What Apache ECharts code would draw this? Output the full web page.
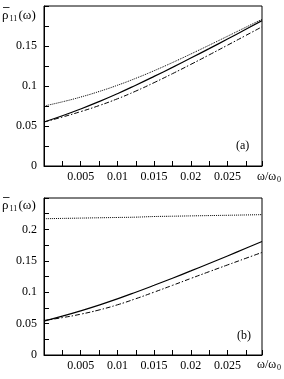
<!DOCTYPE html>
<html>
<head>
<meta charset="utf-8">
<script src="https://cdn.jsdelivr.net/npm/echarts@6/dist/echarts.min.js"></script>
<style>html,body{margin:0;padding:0;background:#fff}#c{width:284px;height:379px}</style>
</head>
<body>
<div id="c"></div>
<script>
// omega / omega_0 sample points
var omega = [0, 0.0025, 0.005, 0.0075, 0.01, 0.0125, 0.015, 0.0175, 0.02, 0.0225, 0.025, 0.0275, 0.0297];
// panel (a)
var aSolid   = [0.055, 0.0628, 0.0713, 0.0805, 0.0904, 0.101, 0.112, 0.1233, 0.1349, 0.1467, 0.1587, 0.1709, 0.1817];
var aDotted  = [0.075, 0.0802, 0.0862, 0.0931, 0.1009, 0.1096, 0.1191, 0.1293, 0.140, 0.151, 0.1622, 0.1735, 0.1834];
var aDashDot = [0.055, 0.0612, 0.068, 0.0755, 0.084, 0.0936, 0.1042, 0.1154, 0.127, 0.1389, 0.151, 0.1632, 0.174];
// panel (b)
var bSolid   = [0.054, 0.0618, 0.0703, 0.0795, 0.0894, 0.100, 0.111, 0.1223, 0.1339, 0.1457, 0.1577, 0.1699, 0.1807];
var bDotted  = [0.217, 0.2175, 0.218, 0.2185, 0.219, 0.2195, 0.2205, 0.221, 0.2215, 0.222, 0.2225, 0.223, 0.2235];
var bDashDot = [0.055, 0.0595, 0.065, 0.0717, 0.0799, 0.0896, 0.1001, 0.1109, 0.1219, 0.1327, 0.1434, 0.154, 0.1633];
var xMax = 0.0297, xStep = 0.0025, xLabelStep = 0.005;
var yMaxA = 0.2, yMaxB = 0.25, yStep = 0.025, yLabelStep = 0.05;

var FONT = 'Liberation Serif';
function pairs(ys){ return omega.map(function(x,i){ return [x, ys[i]]; }); }
function isMult(v, s){ var r = v / s; return Math.abs(r - Math.round(r)) < 1e-6; }
function fmt(v){ return String(+v.toFixed(4)); }

function xAxis(gi){
  return {
    type:'value', gridIndex:gi, min:0, max:xMax, interval:xStep,
    axisLine:{show:true,lineStyle:{color:'#000',width:1}},
    axisTick:{show:true,inside:true,length:5,lineStyle:{color:'#000'}},
    splitLine:{show:false},
    axisLabel:{color:'#000',fontFamily:FONT,fontSize:12,margin:5,
      formatter:function(v){ return (v>1e-9 && v<xMax-1e-6 && isMult(v,xLabelStep)) ? fmt(v) : ''; }}
  };
}
function yAxis(gi, max){
  return {
    type:'value', gridIndex:gi, min:0, max:max, interval:yStep,
    axisLine:{show:true,lineStyle:{color:'#000',width:1}},
    axisTick:{show:true,inside:true,length:5,lineStyle:{color:'#000'}},
    splitLine:{show:false},
    axisLabel:{color:'#000',fontFamily:FONT,fontSize:12,margin:7,
      formatter:function(v){ return (v<max-1e-9 && isMult(v,yLabelStep)) ? fmt(v) : ''; }}
  };
}
function line(gi, ys, type){
  return {type:'line', xAxisIndex:gi, yAxisIndex:gi, data:pairs(ys), showSymbol:false, smooth:0.5,
    lineStyle:{color:'#000', width: type==='solid'?1.2:1, type:type}, silent:true, animation:false};
}
var DASHDOT = [5,2,1.5,2];

function yName(top){
  return [
    {type:'line', shape:{x1:3, y1:top-1.5, x2:9.5, y2:top-1.5}, style:{stroke:'#000', lineWidth:0.8}},
    {type:'text', left:2, top:top, style:{text:'\u03C1', font:'13px "'+FONT+'"', fill:'#000'}},
    {type:'text', left:9.5, top:top+6, style:{text:'11', font:'8px "'+FONT+'"', fill:'#000'}},
    {type:'text', left:18.5, top:top, style:{text:'(\u03C9)', font:'13px "'+FONT+'"', fill:'#000'}}
  ];
}
function xName(top){
  return [
    {type:'text', left:257, top:top, style:{text:'\u03C9/\u03C9', font:'12px "'+FONT+'"', fill:'#000'}},
    {type:'text', left:277, top:top+5, style:{text:'0', font:'8px "'+FONT+'"', fill:'#000'}}
  ];
}

var chart = echarts.init(document.getElementById('c'), null, {renderer:'canvas'});
chart.setOption({
  animation:false,
  grid:[
    {left:44, top:6, width:218, height:160, show:true, borderColor:'#000', borderWidth:1, backgroundColor:'transparent'},
    {left:44, top:198, width:218, height:157, show:true, borderColor:'#000', borderWidth:1, backgroundColor:'transparent'}
  ],
  xAxis:[xAxis(0), xAxis(1)],
  yAxis:[yAxis(0,yMaxA), yAxis(1,yMaxB)],
  series:[
    line(0,aSolid,'solid'), line(0,aDotted,'dotted'), line(0,aDashDot,DASHDOT),
    line(1,bSolid,'solid'), line(1,bDotted,'dotted'), line(1,bDashDot,DASHDOT)
  ],
  graphic: [].concat(
    yName(9), yName(199), xName(171), xName(359),
    [
      {type:'text', left:236, top:140, style:{text:'(a)', font:'12px "'+FONT+'"', fill:'#000'}},
      {type:'text', left:237, top:330, style:{text:'(b)', font:'12px "'+FONT+'"', fill:'#000'}}
    ]
  )
});
</script>
</body>
</html>
